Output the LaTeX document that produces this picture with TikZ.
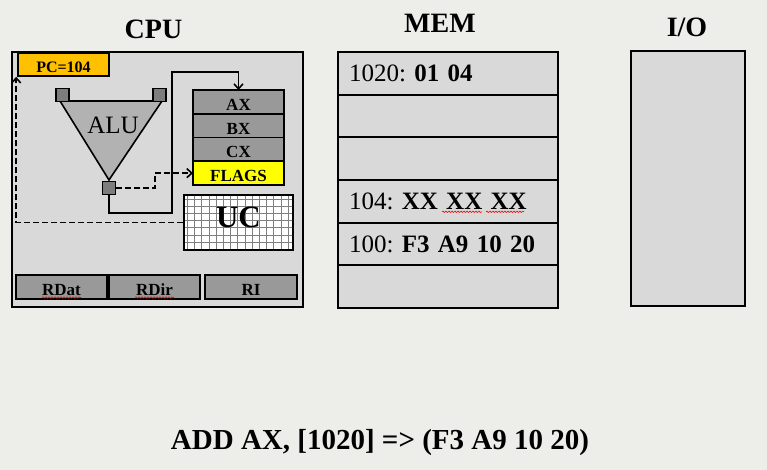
\documentclass[tikz,border=0pt]{standalone}
\usepackage{fontspec}
\setmainfont{Liberation Serif}
\usepackage{xcolor}
\usetikzlibrary{arrows.meta, positioning, calc, decorations.pathmorphing}

\definecolor{bgpaper}{RGB}{237,237,234}
\definecolor{boxgray}{RGB}{217,217,217}
\definecolor{reggray}{RGB}{153,153,153}
\definecolor{alugray}{RGB}{178,178,178}
\definecolor{portgray}{RGB}{125,125,125}
\definecolor{pcorange}{RGB}{255,192,0}
\definecolor{flagyellow}{RGB}{255,255,0}

\frenchspacing

\begin{document}
\begin{tikzpicture}[
        x=1pt, y=-1pt,
        >={Straight Barb[length=5pt,width=9pt]},
        % block styles
        title/.style={font=\bfseries\fontsize{28}{30}\selectfont, anchor=base, inner sep=0pt},
        unit/.style={rectangle, draw=black, line width=1.8pt, fill=boxgray, inner sep=0pt},
        reg/.style={rectangle, draw=black, line width=1.6pt, fill=reggray, minimum width=91pt, minimum height=23.75pt, inner sep=0pt, outer sep=0pt, text height=17pt, font=\bfseries\fontsize{17}{18}\selectfont},
        memrow/.style={rectangle, draw=black, line width=1.8pt, fill=boxgray, minimum width=220pt, minimum height=42.67pt, text width=198pt, inner xsep=11pt, inner ysep=0pt, outer sep=0pt, align=left, font=\fontsize{25}{26}\selectfont},
        port/.style={rectangle, draw=black, line width=1.3pt, fill=portgray, minimum size=13pt, inner sep=0pt},
        bus/.style={line width=1.6pt, ->},
        ctrl/.style={line width=1.6pt, ->, dash pattern=on 6pt off 3pt},
        typo/.style={red, line width=0.6pt, decorate, decoration={snake, segment length=3pt, amplitude=0.7pt}}
    ]

    % --- 0. BACKGROUND ---
    \fill[bgpaper] (0,0) rectangle (767,470);
    \useasboundingbox (0,0) rectangle (767,470);

    % --- 1. TITLES ---
    \node[title] (cputitle) at (153.5,39) {CPU};
    \node[title] (memtitle) at (440,33) {MEM};
    \node[title] (iotitle) at (687,37) {I/O};

    % --- 2. CPU ---
    \node[unit, minimum width=291pt, minimum height=255pt] (cpu) at (157.5,179.5) {};
    \node[unit, fill=pcorange, line width=1.6pt, minimum width=91pt, minimum height=23pt, text height=16pt, font=\bfseries\fontsize{16}{17}\selectfont] (pc) at (63.5,64.5) {PC=104};

    % ALU
    \filldraw[fill=alugray, draw=black, line width=1.6pt] (60,101) -- (162,101) -- (109,180) -- cycle;
    \node[port] (alul) at (62.5,95) {};
    \node[port] (alur) at (159.5,95) {};
    \node[port] (aluo) at (109,188) {};
    \node[font=\fontsize{25}{26}\selectfont] (alulabel) at (113,125) {ALU};

    % registers
    \node[reg] (ax) at (238.5,101.9) {AX};
    \node[reg, below=0pt of ax] (bx) {BX};
    \node[reg, below=0pt of bx] (cx) {CX};
    \node[reg, fill=flagyellow, below=0pt of cx] (flags) {FLAGS};

    % control unit
    \node[unit, fill=white, minimum width=109pt, minimum height=55pt, text depth=10pt,
          font=\bfseries\fontsize{31}{32}\selectfont,
          path picture={\draw[gray, line width=0.8pt, step=7.2pt] (path picture bounding box.south west) grid (path picture bounding box.north east);}] (uc) at (238.5,222.5) {UC};

    % bus registers
    \node[reg, minimum height=24pt] (rdat) at (61.5,287) {RDat};
    \node[reg, minimum height=24pt, right=2pt of rdat] (rdir) {RDir};
    \node[reg, minimum height=24pt, minimum width=92pt, right=5pt of rdir] (ri) {RI};

    % --- 3. MEMORY ---
    \node[memrow] (m1) at (448,73.3) {1020: \textbf{01 04}};
    \node[memrow, below=0pt of m1] (m2) {};
    \node[memrow, below=0pt of m2] (m3) {};
    \node[memrow, below=0pt of m3] (m4) {104: \textbf{XX XX XX}};
    \node[memrow, below=0pt of m4] (m5) {100: \textbf{F3 A9 10 20}};
    \node[memrow, below=0pt of m5] (m6) {};

    % --- 4. I/O ---
    \node[unit, minimum width=114pt, minimum height=255pt] (io) at (688,178.5) {};

    % --- 5. INSTRUCTION ---
    \node[font=\bfseries\fontsize{29}{30}\selectfont, anchor=base, inner sep=0pt] (instr) at (380,449) {ADD AX, [1020] => (F3 A9 10 20)};

    % --- 6. CONNECTIONS ---
    \draw[bus] (aluo.south) |- ++(63,18) |- ($(ax.north)+(0,-18)$) -- (ax.north);
    \draw[ctrl] (aluo.east) -- ++(39,0) |- (flags.west);
    \draw[ctrl] (uc.west) -| ($(pc.south west)+(-1,0)$);

    % spell-check marks
    \draw[typo] ($(rdat.south)+(-19.5,-1.5)$) -- ++(39,0);
    \draw[typo] ($(rdir.south)+(-19.5,-1.5)$) -- ++(39,0);
    \draw[typo] ($(m4.west)+(104,10.5)$) -- ++(40,0);
    \draw[typo] ($(m4.west)+(148,10.5)$) -- ++(38,0);

\end{tikzpicture}
\end{document}
